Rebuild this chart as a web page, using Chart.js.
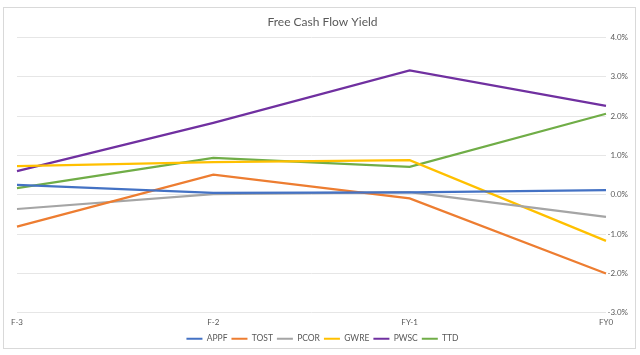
<!DOCTYPE html>
<html><head><meta charset="utf-8">
<script src="https://cdn.jsdelivr.net/npm/chart.js@4"></script>
<style>html,body{margin:0;padding:0;background:#fff}#wrap{position:absolute;left:0;top:0;width:640px;height:355px}</style>
</head><body><div id="wrap"><canvas id="c" width="640" height="355"></canvas></div>
<script>
const categories = ["F-3", "F-2", "FY-1", "FY0"];
const APPF = [0.25, 0.05, 0.06, 0.12];
const TOST = [-0.81, 0.51, -0.09, -2.0];
const PCOR = [-0.36, 0.02, 0.07, -0.56];
const GWRE = [0.73, 0.83, 0.88, -1.17];
const PWSC = [0.60, 1.83, 3.16, 2.26];
const TTD = [0.17, 0.94, 0.71, 2.06];
const seriesNames = ["APPF", "TOST", "PCOR", "GWRE", "PWSC", "TTD"];
const seriesValues = [APPF, TOST, PCOR, GWRE, PWSC, TTD];
const colors = ["#4472C4", "#ED7D31", "#A5A5A5", "#FFC000", "#7030A0", "#70AD47"];

const frame = {
  id: 'frame',
  beforeDraw(chart) {
    const ctx = chart.ctx;
    ctx.save();
    ctx.strokeStyle = '#d9d9d9';
    ctx.lineWidth = 1;
    ctx.strokeRect(3.5, 7.5, 632, 341);
    ctx.restore();
  }
};

const fontFam = 'Lato, "Open Sans", sans-serif';
new Chart(document.getElementById('c'), {
  type: 'line',
  data: {
    labels: categories,
    datasets: seriesNames.map((n, i) => ({
      label: n,
      data: seriesValues[i],
      borderColor: colors[i],
      backgroundColor: colors[i],
      borderWidth: 2.25,
      pointRadius: 0,
      tension: 0,
      fill: false
    }))
  },
  options: {
    responsive: false,
    animation: false,
    layout: { padding: { left: 17, right: 12, top: 13, bottom: 2 } },
    plugins: {
      title: {
        display: true,
        text: 'Free Cash Flow Yield',
        color: '#595959',
        font: { family: fontFam, size: 12, weight: 'normal' },
        padding: { top: 2, bottom: 8 }
      },
      legend: {
        position: 'bottom',
        labels: {
          color: '#595959',
          font: { family: fontFam, size: 8.5 },
          boxWidth: 16,
          boxHeight: 2,
          padding: 4,
          generateLabels(chart) {
            return chart.data.datasets.map((d, i) => ({
              text: d.label, fillStyle: d.borderColor, strokeStyle: d.borderColor,
              lineWidth: 0, hidden: false, datasetIndex: i, fontColor: '#595959'
            }));
          }
        }
      },
      tooltip: { enabled: false }
    },
    scales: {
      x: {
        offset: false,
        grid: { display: false, drawTicks: false },
        border: { display: false },
        afterFit(s) { s.height -= 2; },
        ticks: { color: '#595959', font: { family: fontFam, size: 8 }, padding: 5, maxRotation: 0 }
      },
      y: {
        position: 'right',
        min: -3, max: 4,
        grid: { color: '#e6e6e6', lineWidth: 1, drawTicks: false },
        border: { display: false },
        afterFit(s) { s.width = 22; },
        ticks: {
          stepSize: 1,
          crossAlign: 'far',
          color: '#595959',
          font: { family: fontFam, size: 8 },
          padding: 4,
          callback: v => v.toFixed(1) + '%'
        }
      }
    }
  },
  plugins: [frame]
});
</script></body></html>
